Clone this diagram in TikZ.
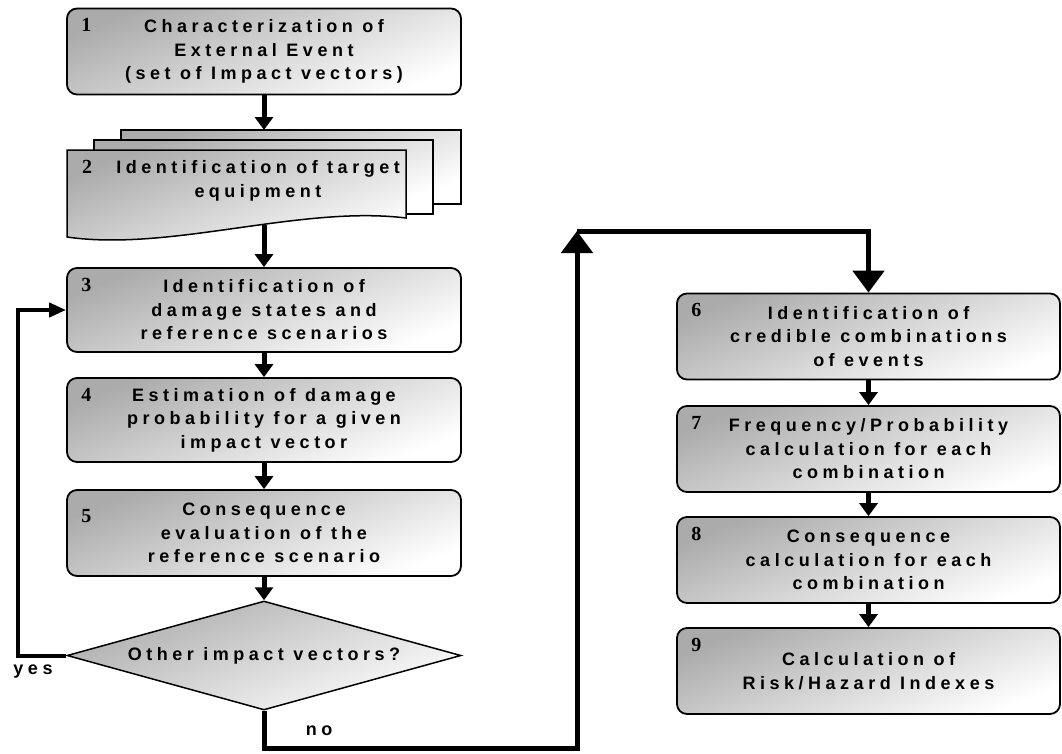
\documentclass[tikz,border=0pt]{standalone}
\usepackage{fontspec}
\newfontfamily\bxfont{Liberation Sans}[LetterSpace=25]
\newfontfamily\numfont{Liberation Serif}
\usetikzlibrary{shapes.geometric,arrows.meta,calc}
\tikzset{
  shadefill/.style={top color=black!33, bottom color=white, shading angle=22},
  boxtext/.style={font=\bxfont\bfseries\fontsize{18}{23.5}\selectfont, align=center},
  procbox/.style={draw, line width=1.8pt, rounded corners=10pt, shadefill,
    minimum width=394pt, minimum height=86pt, inner sep=0pt, boxtext},
  rightbox/.style={procbox, minimum width=383pt},
  docpage/.style={draw, line width=1.5pt, shadefill},
  decision/.style={diamond, draw, line width=1.5pt, shadefill, aspect=3.6,
    minimum width=394pt, minimum height=109pt, inner sep=0pt, boxtext},
  numlabel/.style={font=\numfont\bfseries\fontsize{20}{20}\selectfont, anchor=base west, inner sep=0pt},
  edgelabel/.style={font=\bxfont\bfseries\fontsize{18}{18}\selectfont, inner sep=0pt},
  flowarrow/.style={line width=5pt, -{Triangle[width=18pt,length=13pt]}},
  bigarrow/.style={line width=5pt, -{Triangle[width=31pt,length=22pt]}},
  yesarrow/.style={line width=4pt, -{Triangle[width=14pt,length=17pt]}},
}
\begin{document}
\begin{tikzpicture}[x=1pt,y=-1pt]
\useasboundingbox (0,0) rectangle (1062,753);

% left column
\node[procbox] (b1) at (264,51.5) {Characterization of\\External Event\\(set of Impact vectors)};
\node[numlabel] at ($(b1.north west)+(15,24)$) {1};

% multi-document (box 2)
\draw[docpage] (121,130) rectangle (461,204);
\draw[docpage] (94,140) rectangle (433,214);
\draw[docpage] (67,150) -- (406,150) -- (406,218) .. controls (300,205) and (170,252) .. (67,237) -- cycle;
\node[boxtext, inner sep=0pt] (b2) at (258,181) {Identification of target\\equipment};
\node[numlabel] at (82,173) {2};
\coordinate (p3top) at (264,130);
\coordinate (b2bot) at (264,225);

\node[procbox, minimum height=84pt] (b3) at (264,310) {Identification of\\damage states and\\reference scenarios};
\node[numlabel] at ($(b3.north west)+(15,24)$) {3};

\node[procbox, minimum height=84pt] (b4) at (264,420) {Estimation of damage\\probability for a given\\impact vector};
\node[numlabel] at ($(b4.north west)+(15,24)$) {4};

\node[procbox] (b5) at (264,533) {Consequence\\evaluation of the\\reference scenario};
\node[numlabel] at ($(b5.north west)+(15,33)$) {5};

\node[decision] (dia) at (264,655.5) {Other impact vectors?};

% right column
\node[rightbox] (b6) at (868.5,336.5) {Identification of\\credible combinations\\of events};
\node[numlabel] at ($(b6.north west)+(15,24)$) {6};
\node[rightbox] (b7) at (868.5,449) {Frequency/Probability\\calculation for each\\combination};
\node[numlabel] at ($(b7.north west)+(15,24)$) {7};
\node[rightbox] (b8) at (868.5,560) {Consequence\\calculation for each\\combination};
\node[numlabel] at ($(b8.north west)+(15,24)$) {8};
\node[rightbox] (b9) at (868.5,671) {Calculation of\\Risk/Hazard Indexes};
\node[numlabel] at ($(b9.north west)+(15,24)$) {9};

% connectors
\draw[flowarrow] (b1.south) -- (p3top);
\draw[flowarrow] (b2bot) -- (b3.north);
\draw[flowarrow] (b3.south) -- (b4.north);
\draw[flowarrow] (b4.south) -- (b5.north);
\draw[flowarrow] (b5.south) -- (dia.north);
\draw[flowarrow] (b6.south) -- (b7.north);
\draw[flowarrow] (b7.south) -- (b8.north);
\draw[flowarrow] (b8.south) -- (b9.north);

\coordinate (yescorner) at (18,655.5);
\draw[yesarrow] (dia.west) -- (yescorner) |- (b3.west);
\node[edgelabel] (yes) at (33,672) {yes};

\coordinate (low) at (577,748);
\coordinate (up) at (577,231);
\draw[bigarrow] (dia.south) |- (low) -- (up);
\draw[bigarrow] (up) -| (b6.north);
\node[edgelabel] (no) at (319,731) {no};
\end{tikzpicture}
\end{document}
